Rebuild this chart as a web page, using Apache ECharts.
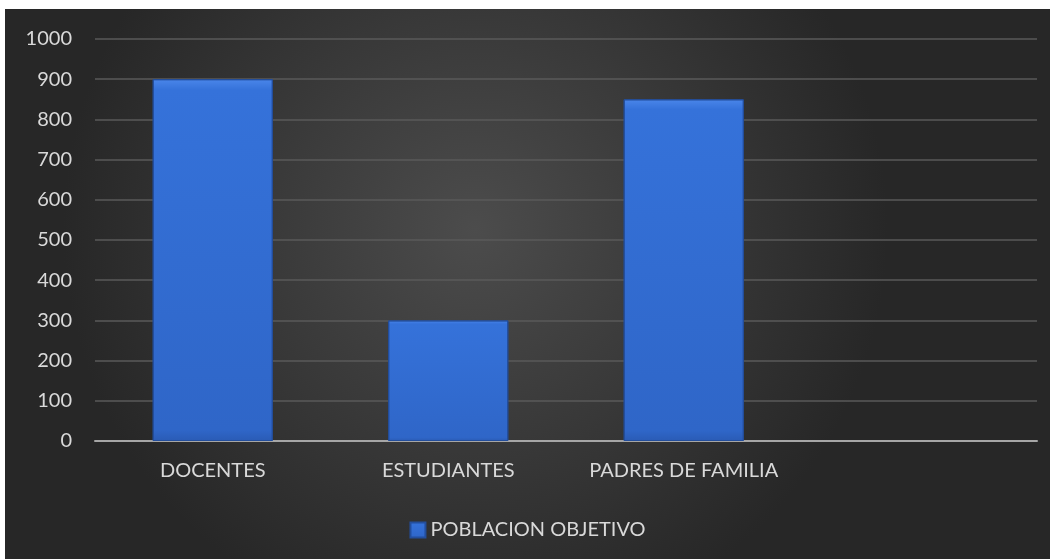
<!DOCTYPE html>
<html>
<head>
<meta charset="utf-8">
<script src="https://cdn.jsdelivr.net/npm/echarts@6/dist/echarts.min.js"></script>
<style>
html,body{margin:0;padding:0;background:#ffffff;width:1050px;height:559px;overflow:hidden;}
#c{position:absolute;left:5px;top:9px;width:1045px;height:550px;}
</style>
</head>
<body>
<div id="c"></div>
<script>
const categories = ['DOCENTES', 'ESTUDIANTES', 'PADRES DE FAMILIA', ''];
const poblacionObjetivo = [900, 300, 850, null];
const seriesName = 'POBLACION OBJETIVO';
const yTicks = {min: 0, max: 1000, interval: 100};

const chart = echarts.init(document.getElementById('c'), null, {renderer: 'canvas'});
const font = 'Lato, "Open Sans", sans-serif';
const barColor = new echarts.graphic.LinearGradient(0, 0, 0, 1, [
  {offset: 0, color: '#4a86ea'},
  {offset: 0.03, color: '#3572da'},
  {offset: 0.97, color: '#2f66c8'},
  {offset: 1, color: '#2a5bb5'}
]);
chart.setOption({
  backgroundColor: new echarts.graphic.RadialGradient(0.45, 0.4, 0.75, [
    {offset: 0, color: '#4c4c4c'},
    {offset: 1, color: '#272727'}
  ]),
  textStyle: {fontFamily: font},
  grid: {left: 90, right: 13, top: 30, bottom: 118, containLabel: false},
  legend: {
    data: [seriesName],
    bottom: 14,
    left: 'center',
    itemWidth: 15,
    itemHeight: 15,
    itemGap: 5,
    icon: 'rect',
    textStyle: {color: '#d9d9d9', fontSize: 20, fontFamily: font}
  },
  xAxis: {
    type: 'category',
    data: categories,
    axisLine: {show: true, lineStyle: {color: '#a6a6a6', width: 2}},
    axisTick: {show: false},
    axisLabel: {color: '#d9d9d9', fontSize: 20, margin: 20, fontFamily: font, interval: 0}
  },
  yAxis: {
    type: 'value',
    min: yTicks.min,
    max: yTicks.max,
    interval: yTicks.interval,
    axisLine: {show: false},
    axisTick: {show: false},
    axisLabel: {color: '#d9d9d9', fontSize: 20, margin: 23, fontFamily: font, formatter: function (v) { return String(v); }},
    splitLine: {lineStyle: {color: '#5a5a5a', width: 1.5}}
  },
  series: [{
    name: seriesName,
    type: 'bar',
    data: poblacionObjetivo,
    barWidth: '51%',
    itemStyle: {color: barColor, borderColor: '#234e9c', borderWidth: 1},
    silent: true
  }]
});
</script>
</body>
</html>
